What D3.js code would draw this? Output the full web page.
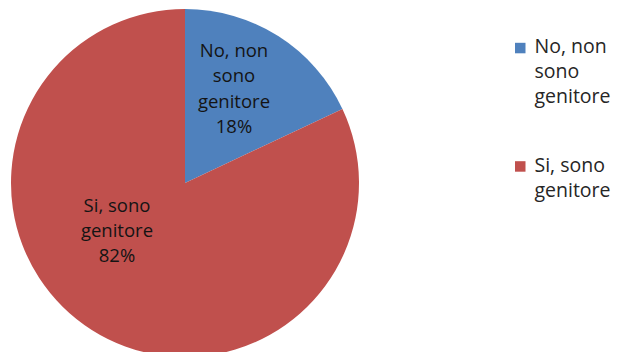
<!DOCTYPE html>
<html>
<head>
<meta charset="utf-8">
<script src="https://cdn.jsdelivr.net/npm/d3@7/dist/d3.min.js"></script>
<style>
  html, body { margin: 0; padding: 0; background: #fff; }
  svg { display: block; }
  text { font-family: "Open Sans", "Liberation Sans", sans-serif; }
</style>
</head>
<body>
<script>
// Survey answers: are you a parent?
const categories = ["No, non sono genitore", "Si, sono genitore"];
const values = [18, 82];
const colors = ["#4F81BD", "#C0504D"];
// Slice labels and legend labels, broken into lines
const sliceLabelLines = [["No, non", "sono", "genitore"], ["Si, sono", "genitore"]];
const legendLabelLines = [["No, non", "sono", "genitore"], ["Si, sono", "genitore"]];

const W = 619, H = 352;
const cx = 185, cy = 183, R = 174;
const labelSize = 18.5, labelLineH = 25.3;
const legendSize = 19.5, legendLineH = 25;

const svg = d3.select("body").append("svg").attr("width", W).attr("height", H);

const color = d3.scaleOrdinal().domain(categories).range(colors);
const pie = d3.pie().sort(null).value(d => d.value);
const arcs = pie(categories.map((c, i) => ({ cat: c, value: values[i] })));
const arc = d3.arc().innerRadius(0).outerRadius(R);
const total = d3.sum(values);

const g = svg.append("g").attr("transform", `translate(${cx},${cy})`);
g.selectAll("path").data(arcs).join("path")
  .attr("d", arc)
  .attr("fill", d => color(d.data.cat));

// Slice labels: anchored on a centroid, shifted to the first baseline
const labelRadius = [R * 0.52, R * 0.44];
const labelShift = [[0.5, -49.6], [-27, -36]];
arcs.forEach((d, i) => {
  const la = d3.arc().innerRadius(labelRadius[i]).outerRadius(labelRadius[i]);
  const [lx, ly] = la.centroid(d);
  const x = lx + labelShift[i][0], y0 = ly + labelShift[i][1];
  const lines = sliceLabelLines[i].concat([Math.round(d.data.value / total * 100) + "%"]);
  const t = g.append("text")
    .attr("text-anchor", "middle")
    .attr("font-size", labelSize)
    .attr("fill", "#141414");
  lines.forEach((ln, k) => {
    t.append("tspan").attr("x", x).attr("y", y0 + k * labelLineH).text(ln);
  });
});

// Legend
const legend = svg.append("g").attr("transform", "translate(515,0)");
const legendBaselines = [53.3, 171.7];
categories.forEach((c, i) => {
  const y = legendBaselines[i];
  legend.append("rect")
    .attr("x", 0).attr("y", y - 10.5).attr("width", 10.5).attr("height", 10.5)
    .attr("fill", color(c));
  const t = legend.append("text").attr("font-size", legendSize).attr("fill", "#262626");
  legendLabelLines[i].forEach((ln, k) => {
    t.append("tspan").attr("x", 19.5).attr("y", y + k * legendLineH).text(ln);
  });
});
</script>
</body>
</html>
